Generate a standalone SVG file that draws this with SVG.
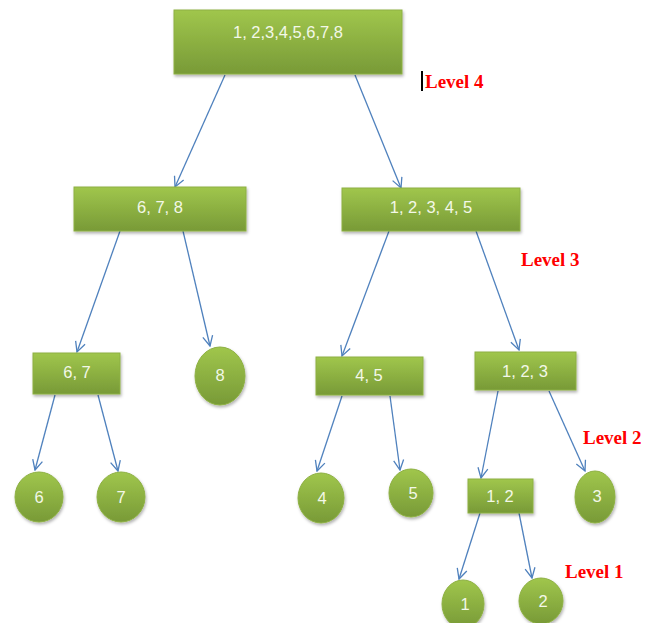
<svg xmlns="http://www.w3.org/2000/svg" width="659" height="623" viewBox="0 0 659 623">
<defs>
<linearGradient id="g" x1="0" y1="0" x2="0" y2="1">
<stop offset="0" stop-color="#a0c64c"/>
<stop offset="1" stop-color="#789a37"/>
</linearGradient>
<filter id="sh" x="-20%" y="-20%" width="140%" height="150%">
<feDropShadow dx="1" dy="2" stdDeviation="1.5" flood-color="#000" flood-opacity="0.3"/>
</filter>
<marker id="ah" viewBox="0 0 12 12" refX="11" refY="6" markerWidth="12" markerHeight="12" markerUnits="userSpaceOnUse" orient="auto">
<path d="M1,1 L11,6 L1,11" fill="none" stroke="#4f81bd" stroke-width="1.3"/>
</marker>
</defs>
<style>
.n{fill:url(#g);stroke:#8db042;stroke-width:1;filter:url(#sh)}
.t{font-family:"Liberation Sans",Arial,sans-serif;font-size:16.5px;fill:#f3f8e8;text-anchor:middle}
.c line{stroke:#4f81bd;stroke-width:1.3;marker-end:url(#ah)}
.lv{font-family:"Liberation Serif","Times New Roman",serif;font-size:19px;font-weight:bold;fill:#ff0000}
</style>
<rect width="659" height="623" fill="#fff"/>
<g class="c" id="connectors">
<line x1="225" y1="75" x2="175" y2="187"/>
<line x1="355" y1="75" x2="401" y2="188"/>
<line x1="120" y1="231" x2="77" y2="352"/>
<line x1="183" y1="231" x2="210" y2="346"/>
<line x1="389" y1="231" x2="342" y2="356"/>
<line x1="476" y1="231" x2="519" y2="350"/>
<line x1="55" y1="395" x2="35" y2="470"/>
<line x1="98" y1="395" x2="118" y2="471"/>
<line x1="342" y1="396" x2="317" y2="471"/>
<line x1="390" y1="396" x2="400" y2="470"/>
<line x1="498" y1="391" x2="481" y2="478"/>
<line x1="549" y1="391" x2="585" y2="471"/>
<line x1="480" y1="513" x2="459" y2="579"/>
<line x1="519" y1="513" x2="532" y2="578"/>
</g>
<g id="n12345678"><rect class="n" x="174" y="10" width="228" height="64"/><text class="t" x="288" y="38" font-size="17.5">1, 2,3,4,5,6,7,8</text></g>
<g id="n678"><rect class="n" x="74" y="187" width="172" height="44"/><text class="t" x="160" y="213">6, 7, 8</text></g>
<g id="n12345"><rect class="n" x="342" y="188" width="178" height="43"/><text class="t" x="431" y="213">1, 2, 3, 4, 5</text></g>
<g id="n67"><rect class="n" x="33" y="353" width="87" height="41"/><text class="t" x="77" y="378">6, 7</text></g>
<g id="n8"><ellipse class="n" cx="220" cy="376" rx="25" ry="29"/><text class="t" x="220" y="381">8</text></g>
<g id="n45"><rect class="n" x="316" y="357" width="107" height="38"/><text class="t" x="369" y="381">4, 5</text></g>
<g id="n123"><rect class="n" x="475" y="352" width="101" height="38"/><text class="t" x="525" y="377">1, 2, 3</text></g>
<g id="n6"><ellipse class="n" cx="39" cy="497" rx="24" ry="25"/><text class="t" x="39" y="503">6</text></g>
<g id="n7"><ellipse class="n" cx="121" cy="497" rx="24" ry="25"/><text class="t" x="121" y="503">7</text></g>
<g id="n4"><ellipse class="n" cx="321" cy="498" rx="23" ry="25"/><text class="t" x="322" y="504">4</text></g>
<g id="n5"><ellipse class="n" cx="411" cy="493" rx="22" ry="24"/><text class="t" x="413" y="499">5</text></g>
<g id="n12"><rect class="n" x="468" y="479" width="65" height="34"/><text class="t" x="500" y="502">1, 2</text></g>
<g id="n3"><ellipse class="n" cx="595" cy="497" rx="20" ry="26"/><text class="t" x="597" y="502">3</text></g>
<g id="n1"><ellipse class="n" cx="463" cy="604" rx="21" ry="24"/><text class="t" x="465" y="610">1</text></g>
<g id="n2"><ellipse class="n" cx="541" cy="601" rx="22" ry="23"/><text class="t" x="543" y="607">2</text></g>
<g id="levels">
<rect x="421" y="71" width="2" height="20" fill="#000"/>
<text class="lv" x="425" y="88">Level 4</text>
<text class="lv" x="521" y="266">Level 3</text>
<text class="lv" x="583" y="444">Level 2</text>
<text class="lv" x="565" y="578">Level 1</text>
</g>
</svg>
